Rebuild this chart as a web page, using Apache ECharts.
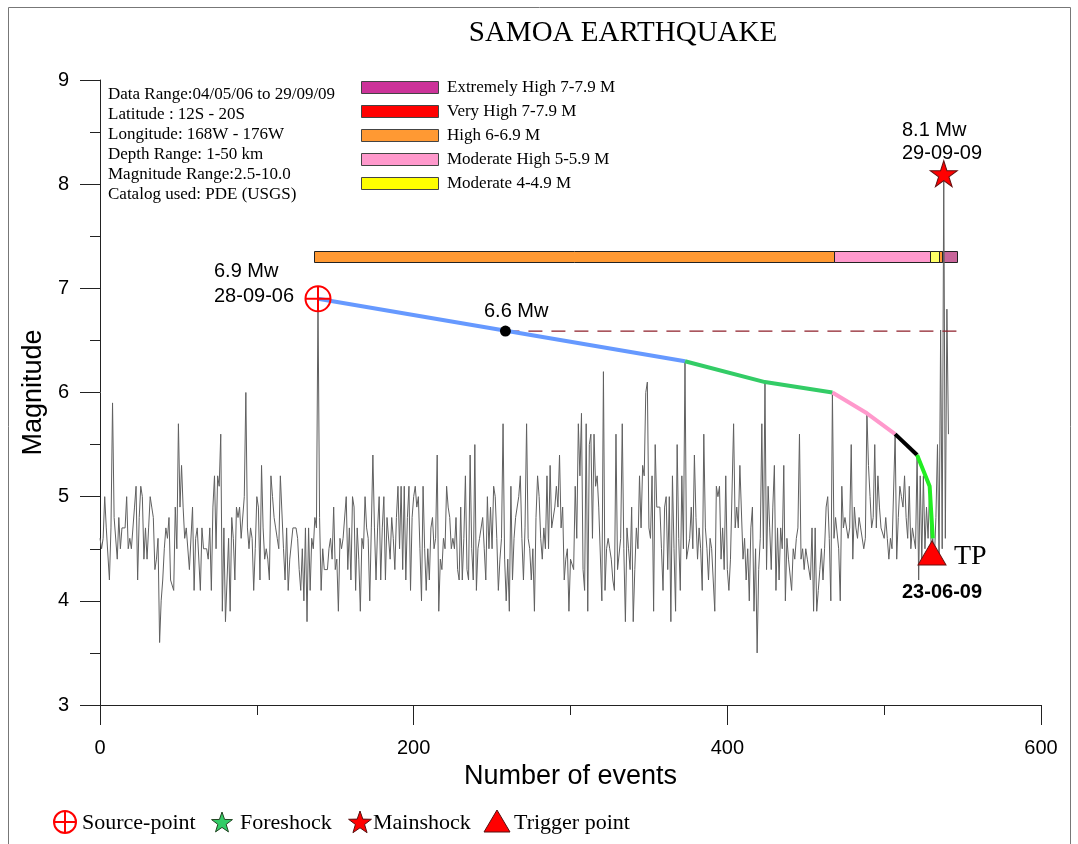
<!DOCTYPE html>
<html><head><meta charset="utf-8">
<script src="https://cdn.jsdelivr.net/npm/echarts@6/dist/echarts.min.js"></script>
<style>html,body{margin:0;padding:0;background:#fff}#c{width:1078px;height:844px}</style>
</head><body><div id="c"></div>
<script>
// Magnitude of each event, index = event number
const magnitudes = [
 4.6,4.5,4.6,5.0,4.7,4.7,4.2,4.7,5.9,4.8,   // 0
 4.8,4.4,4.8,4.5,4.7,4.7,4.7,5.0,4.5,4.6,   // 10
 4.5,4.5,4.9,5.1,4.2,4.8,5.1,5.0,4.4,4.7,   // 20
 4.4,4.7,5.0,4.9,4.8,4.3,4.4,4.6,3.6,4.0,   // 30
 4.2,4.5,4.7,4.6,4.8,4.2,4.2,4.1,4.9,4.5,   // 40
 5.7,4.9,5.3,4.9,4.6,4.7,4.7,4.3,4.3,4.9,   // 50
 4.1,4.6,4.7,4.7,4.1,4.7,4.5,4.5,4.5,4.4,   // 60
 4.7,4.1,4.9,5.2,4.5,5.2,5.1,5.6,3.9,4.7,   // 70
 3.8,4.2,4.6,3.9,4.8,4.6,4.2,4.9,4.8,4.9,   // 80
 4.6,4.6,5.0,6.0,4.7,4.5,4.7,4.6,4.1,4.5,   // 90
 5.0,4.9,4.2,5.3,4.7,4.4,4.5,4.4,4.2,5.2,   // 100
 5.0,4.8,4.7,4.6,4.5,5.2,5.2,4.5,4.2,4.7,   // 110
 4.1,4.4,4.4,4.7,4.7,4.7,4.6,4.3,4.1,4.5,   // 120
 4.0,4.7,3.8,4.7,4.1,4.6,4.5,4.8,4.7,6.9,   // 130
 4.8,4.1,4.5,4.3,4.3,4.3,4.5,4.6,4.4,4.9,   // 140
 4.3,4.4,3.9,4.6,4.5,4.6,4.6,5.0,4.3,4.7,   // 150
 4.2,5.0,4.9,4.1,4.7,4.4,3.9,4.6,4.5,5.0,   // 160
 4.7,4.6,4.0,4.7,5.4,4.7,4.2,4.7,5.0,4.2,   // 170
 4.7,5.0,4.2,4.8,4.8,4.4,4.8,4.6,4.3,4.8,   // 180
 5.1,4.5,5.1,4.3,5.1,4.2,4.8,5.1,4.1,4.8,   // 190
 5.0,5.1,4.9,5.0,4.5,4.0,5.1,4.5,4.1,4.5,   // 200
 4.2,4.7,4.8,4.5,4.6,5.4,3.9,4.4,4.3,4.6,   // 210
 4.5,5.1,4.9,4.8,4.5,4.6,4.5,4.8,4.3,4.2,   // 220
 4.9,4.2,4.6,5.2,4.3,4.2,5.4,4.5,4.2,5.5,   // 230
 4.1,4.5,4.6,4.6,4.8,4.5,4.2,5.0,4.5,4.9,   // 240
 4.5,5.1,5.0,4.6,4.1,4.4,4.6,5.7,4.4,4.0,   // 250
 4.4,3.9,5.1,4.2,4.6,4.8,4.8,5.0,5.2,4.6,   // 260
 4.2,4.7,5.7,4.6,4.5,4.2,4.5,3.9,4.8,5.2,   // 270
 5.0,4.6,4.4,4.7,4.5,5.2,4.5,5.3,4.7,4.7,   // 280
 4.9,5.1,4.9,5.4,4.7,4.9,4.2,4.4,4.5,3.9,   // 290
 4.4,4.4,4.3,5.1,4.6,5.7,5.2,5.8,4.3,4.1,   // 300
 5.7,3.9,5.5,5.6,4.6,5.6,5.1,5.2,4.9,4.9,   // 310
 4.0,6.2,4.1,4.5,4.6,4.5,4.4,4.2,4.1,5.6,   // 320
 4.3,4.3,4.6,5.7,4.5,3.8,4.7,4.5,4.3,4.9,   // 330
 3.8,4.3,4.7,4.5,5.2,4.7,5.3,5.2,6.0,6.1,   // 340
 4.7,4.6,5.2,3.9,5.5,4.9,4.9,4.9,4.5,4.1,   // 350
 4.9,5.0,4.3,5.0,3.8,5.2,4.5,3.9,5.5,4.6,   // 360
 4.1,5.2,4.5,6.3,4.4,4.4,4.6,4.9,4.5,5.4,   // 370
 4.8,4.4,4.7,4.5,4.1,5.6,4.7,4.5,4.2,4.6,   // 380
 4.5,4.5,3.9,5.1,5.0,5.1,4.4,4.7,4.3,5.2,   // 390
 4.3,4.1,4.4,4.4,5.7,4.7,4.9,4.7,5.3,5.3,   // 400
 4.4,4.6,4.2,4.5,4.0,4.7,4.9,3.9,4.5,3.5,   // 410
 4.3,4.6,5.7,4.5,6.1,4.3,5.1,4.7,4.3,4.9,   // 420
 5.3,4.1,4.7,4.2,4.7,4.5,5.3,4.0,4.6,4.4,   // 430
 4.4,4.1,4.5,4.4,4.6,4.7,5.6,4.4,4.5,4.3,   // 440
 4.5,4.4,4.4,4.2,4.7,3.9,4.7,3.9,4.1,4.3,   // 450
 4.5,4.2,4.5,4.9,5.0,4.6,4.0,6.0,4.6,4.8,   // 460
 4.8,4.5,4.0,5.1,4.7,4.8,4.8,4.6,4.7,5.5,   // 470
 4.4,4.9,4.7,4.6,4.8,4.7,4.7,4.5,4.6,5.8,   // 480
 5.3,5.0,4.7,4.8,5.5,4.7,5.2,4.9,4.7,4.7,   // 490
 4.6,4.8,4.6,4.4,4.6,4.5,4.5,5.6,4.4,4.8,   // 500
 5.1,5.0,4.9,5.2,4.8,4.6,5.1,4.5,4.7,4.6,   // 510
 4.5,5.4,4.2,5.2,4.4,5.2,4.5,4.9,4.6,5.1,   // 520
 4.5,4.6,4.4,4.8,5.5,4.4,6.6,4.5,8.1,4.6,   // 530
 6.8,5.6                                     // 540
];

// Trend path through the peaks (event indices)
const segBlue  = [139, 373];
const segGreen = [373, 424, 467];
const segPink  = [467, 489, 507];
const segBlack = [507, 521];
const segLime  = [521, 529, 531];

// Horizontal level band (event ranges)
const bandStarts = [136.5, 468, 529, 535.2, 536.8];
const bandEnds   = [468, 529, 535.2, 536.8, 546.5];
const bandLevel  = [2, 3, 4, 2, 0];   // index into levelNames
const bandBottom = 7.25, bandTop = 7.36;

const levelNames = ['Extremely High 7-7.9 M','Very High 7-7.9 M','High 6-6.9 M','Moderate High 5-5.9 M','Moderate 4-4.9 M'];

const sourcePoint = [139, 6.9];
const markerDot = [258.5, 6.59];
const dashEndX = 549;
const mainshock = [538, 8.1];
const triggerPoint = [530.5, 4.46];

const infoLines = ['Data Range:04/05/06 to 29/09/09','Latitude : 12S - 20S','Longitude: 168W - 176W','Depth Range: 1-50 km','Magnitude Range:2.5-10.0','Catalog used: PDE (USGS)'];
const legendItems = ['Source-point','Foreshock','Mainshock','Trigger point'];

const xTicks = [0, 200, 400, 600];
const yTicks = [3, 4, 5, 6, 7, 8, 9];

// ---- styles ----
const SANS = 'Liberation Sans, Arial, sans-serif';
const SERIF = 'Liberation Serif, Times New Roman, serif';
const swatchColors = ['#cc3399','#ff0000','#ff9933','#ff99cc','#ffff00'];
const bandColors = ['#c8659a','#ff0000','#ff9933','#ff99cc','#ffff66'];
const STAR = 'path://M50,0 L61.2,34.5 L97.6,34.5 L68.2,55.9 L79.4,90.5 L50,69.1 L20.6,90.5 L31.8,55.9 L2.4,34.5 L38.8,34.5 Z';

function pts(idx){ return idx.map(i => [i, magnitudes[i]]); }
function trend(idx, color){
  return {type:'line', data: pts(idx), symbol:'none', z:5, silent:true,
    lineStyle:{color:color, width:4, opacity:1}};
}
function starPoints(cx, cy, R){
  const p=[]; for(let k=0;k<10;k++){const a=(-90+36*k)*Math.PI/180; const r=k%2?R*0.4:R; p.push([cx+r*Math.cos(a), cy+r*Math.sin(a)]);} return p;
}
function txt(x, y, s, font, align, extra){
  return Object.assign({type:'text', x:x, y:y, silent:true,
    style:{text:s, font:font, fill:'#000', align:align||'left', verticalAlign:'middle'}}, extra||{});
}

const graphics = [
  {type:'rect', shape:{x:8.5, y:7.5, width:1062, height:860}, style:{fill:'none', stroke:'#777', lineWidth:1}, silent:true},
  txt(623, 33, 'SAMOA EARTHQUAKE', '29px ' + SERIF, 'center'),
];
infoLines.forEach((s,i)=>graphics.push(txt(108, 95 + i*20, s, '17px ' + SERIF)));
levelNames.forEach((s,i)=>{
  graphics.push({type:'rect', shape:{x:361.5, y:81.5 + i*24, width:77, height:12}, style:{fill:swatchColors[i], stroke:'#444', lineWidth:1}, silent:true});
  graphics.push(txt(447, 88 + i*24, s, '17px ' + SERIF));
});
// annotations
graphics.push(txt(214, 271, '6.9 Mw', '20px ' + SANS));
graphics.push(txt(214, 296, '28-09-06', '20px ' + SANS));
graphics.push(txt(484, 311, '6.6 Mw', '20px ' + SANS));
graphics.push(txt(902, 130, '8.1 Mw', '20px ' + SANS));
graphics.push(txt(902, 153, '29-09-09', '20px ' + SANS));
graphics.push(txt(954, 557, 'TP', '28px ' + SERIF));
graphics.push(txt(902, 592, '23-06-09', 'bold 20px ' + SANS));
// bottom legend
const ly = 823;
graphics.push({type:'circle', shape:{cx:65, cy:ly-1, r:11}, style:{fill:'none', stroke:'#ff0000', lineWidth:2}, silent:true});
graphics.push({type:'line', shape:{x1:54, y1:ly-1, x2:76, y2:ly-1}, style:{stroke:'#ff0000', lineWidth:2}, silent:true});
graphics.push({type:'line', shape:{x1:65, y1:ly-12, x2:65, y2:ly+10}, style:{stroke:'#ff0000', lineWidth:2}, silent:true});
graphics.push(txt(82, ly, legendItems[0], '22px ' + SERIF));
graphics.push({type:'polygon', shape:{points:starPoints(222, ly, 11)}, style:{fill:'#33cc66', stroke:'#224422', lineWidth:1}, silent:true});
graphics.push(txt(240, ly, legendItems[1], '22px ' + SERIF));
graphics.push({type:'polygon', shape:{points:starPoints(360, ly, 12)}, style:{fill:'#ff0000', stroke:'#551111', lineWidth:1}, silent:true});
graphics.push(txt(373, ly, legendItems[2], '22px ' + SERIF));
graphics.push({type:'polygon', shape:{points:[[497,ly-13],[510,ly+9],[484,ly+9]]}, style:{fill:'#ff0000', stroke:'#551111', lineWidth:1}, silent:true});
graphics.push(txt(514, ly, legendItems[3], '22px ' + SERIF));

const axisCol = '#222';
const option = {
  animation:false,
  backgroundColor:'#fff',
  grid:{left:100, right:37, top:80, bottom:139},
  xAxis:{type:'value', min:xTicks[0], max:xTicks[xTicks.length-1], interval:200,
    axisLine:{lineStyle:{color:axisCol, width:1}},
    axisTick:{length:20, lineStyle:{color:axisCol}},
    minorTick:{show:true, splitNumber:2, length:10, lineStyle:{color:axisCol}},
    splitLine:{show:false}, minorSplitLine:{show:false},
    axisLabel:{fontFamily:SANS, fontSize:20, color:'#000', margin:33},
    name:'Number of events', nameLocation:'middle', nameGap:58,
    nameTextStyle:{fontFamily:SANS, fontSize:27, color:'#000'}},
  yAxis:{type:'value', min:yTicks[0], max:yTicks[yTicks.length-1], interval:1,
    axisLine:{show:true, lineStyle:{color:axisCol, width:1}},
    axisTick:{show:true, length:20, lineStyle:{color:axisCol}},
    minorTick:{show:true, splitNumber:2, length:10, lineStyle:{color:axisCol}},
    splitLine:{show:false}, minorSplitLine:{show:false},
    axisLabel:{fontFamily:SANS, fontSize:20, color:'#000', margin:31},
    name:'Magnitude', nameLocation:'middle', nameGap:53, nameRotate:90,
    nameTextStyle:{fontFamily:SANS, fontSize:27, color:'#000'}},
  graphic: graphics,
  series:[
    {type:'custom', z:2, silent:true,
      data: bandStarts.map((s,i)=>[s, bandEnds[i], bandLevel[i]]),
      renderItem:function(params, api){
        const p0 = api.coord([api.value(0), bandTop]);
        const p1 = api.coord([api.value(1), bandBottom]);
        return {type:'rect', shape:{x:Math.round(p0[0])+0.5, y:Math.round(p0[1])+0.5, width:Math.round(p1[0]-p0[0]), height:Math.round(p1[1]-p0[1])},
          style:{fill:bandColors[api.value(2)], stroke:'#222', lineWidth:1}};
      }},
    {type:'line', z:3, silent:true, symbol:'none',
      data: magnitudes.map((m,i)=>[i,m]),
      lineStyle:{color:'#606060', width:1}},
    {type:'line', z:4, silent:true, symbol:'none',
      data:[[markerDot[0], markerDot[1]],[dashEndX, markerDot[1]]],
      lineStyle:{color:'#8e1f2a', width:1.3, type:[14,9], opacity:1}},
    trend(segBlue, '#6699ff'),
    trend(segGreen, '#33cc66'),
    trend(segPink, '#ff99cc'),
    trend(segBlack, '#000000'),
    trend(segLime, '#22ee22'),
    {type:'scatter', z:6, silent:true, data:[markerDot], symbol:'circle', symbolSize:11, itemStyle:{color:'#000', opacity:1}},
    {type:'custom', z:7, silent:true, data:[sourcePoint],
      renderItem:function(params, api){
        const c = api.coord([api.value(0), api.value(1)]);
        const st = {stroke:'#ff0000', lineWidth:2, fill:'none'};
        return {type:'group', children:[
          {type:'circle', shape:{cx:c[0], cy:c[1], r:12.5}, style:st},
          {type:'line', shape:{x1:c[0]-12.5, y1:c[1], x2:c[0]+12.5, y2:c[1]}, style:st},
          {type:'line', shape:{x1:c[0], y1:c[1]-12.5, x2:c[0], y2:c[1]+12.5}, style:st}
        ]};
      }},
    {type:'scatter', z:7, silent:true, data:[mainshock], symbol:STAR, symbolSize:[27,26],
      itemStyle:{color:'#ff0000', borderColor:'#661111', borderWidth:1, opacity:1}},
    {type:'scatter', z:7, silent:true, data:[triggerPoint], symbol:'triangle', symbolSize:[28,24],
      itemStyle:{color:'#ff0000', borderColor:'#661111', borderWidth:1, opacity:1}}
  ]
};
const chart = echarts.init(document.getElementById('c'), null, {renderer:'canvas'});
chart.setOption(option);
</script>
</body></html>
